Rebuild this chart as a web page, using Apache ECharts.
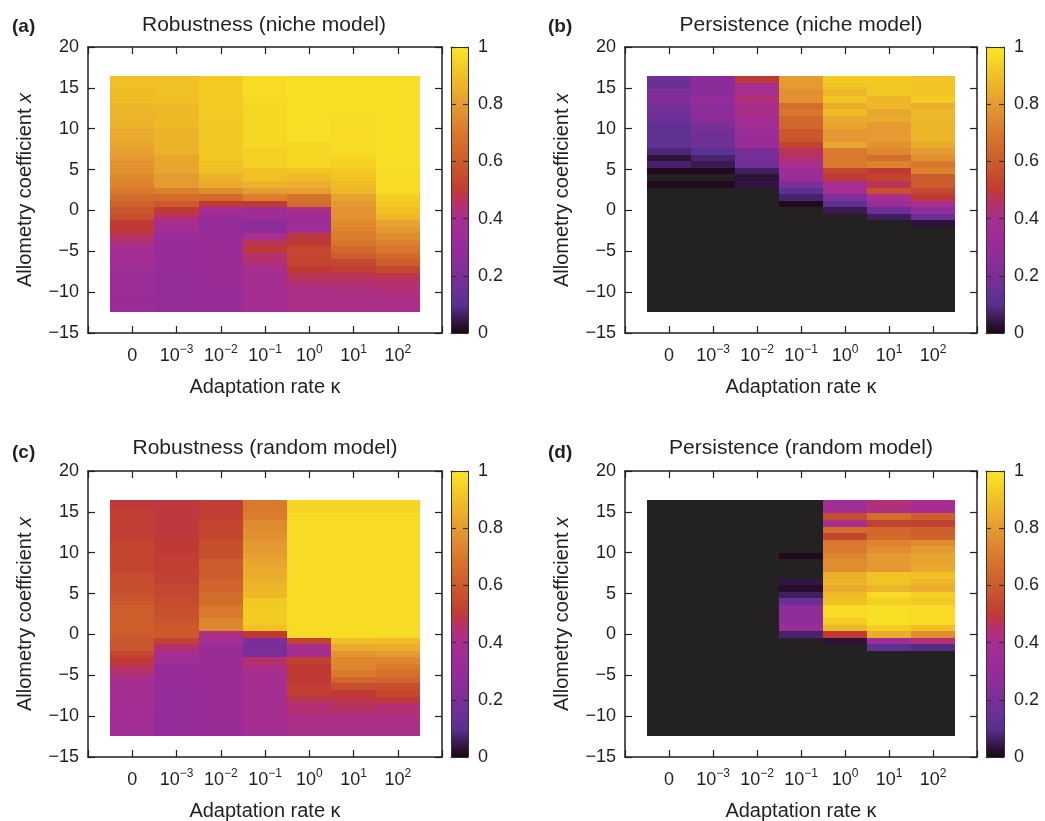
<!DOCTYPE html>
<html>
<head>
<meta charset="utf-8">
<title>Robustness and persistence</title>
<script src="https://cdn.jsdelivr.net/npm/echarts@6.0.0/dist/echarts.min.js"></script>
<style>
  html, body { margin: 0; padding: 0; background: #fff; }
  #main { width: 1045px; height: 821px; }
</style>
</head>
<body>
<div id="main"></div>
<script>
// ---- data ----
var N = null; // no value (drawn dark grey)

var kappaExp = ['', '\u22123', '\u22122', '\u22121', '0', '1', '2']; // tick labels 0, 10^-3 ... 10^2
var panelTitles = ['Robustness (niche model)', 'Persistence (niche model)', 'Robustness (random model)', 'Persistence (random model)'];
var panelTags = ['(a)', '(b)', '(c)', '(d)'];

// allometry coefficient x of each row, top to bottom
var xRows = [16, 15.2, 14.4, 13.6, 12.8, 12, 11.2, 10.4, 9.6, 8.8, 8, 7.2, 6.4, 5.6, 4.8, 4, 3.2, 2.4,
             1.6, 0.8, 0, -0.8, -1.6, -2.4, -3.2, -4, -4.8, -5.6, -6.4, -7.2, -8, -8.8, -9.6, -10.4, -11.2, -12];

// one array per adaptation rate column, values top (x=16) to bottom (x=-12)
var robNiche = [
  [0.9,0.9,0.89,0.89,0.87,0.87,0.86,0.86,0.84,0.84,0.83,0.81,0.8,0.78,0.77,0.75,0.73,0.7,0.66,0.62,0.58,0.56,0.5,0.5,0.46,0.43,0.38,0.37,0.37,0.34,0.33,0.33,0.33,0.32,0.32,0.33],
  [0.9,0.9,0.9,0.9,0.88,0.88,0.88,0.88,0.86,0.86,0.86,0.86,0.83,0.83,0.83,0.8,0.8,0.72,0.66,0.59,0.5,0.45,0.39,0.38,0.31,0.31,0.31,0.31,0.31,0.31,0.29,0.29,0.29,0.29,0.29,0.29],
  [0.93,0.93,0.93,0.93,0.93,0.93,0.92,0.92,0.92,0.92,0.92,0.92,0.92,0.9,0.9,0.86,0.84,0.76,0.65,0.5,0.38,0.32,0.3,0.3,0.32,0.32,0.32,0.32,0.32,0.32,0.32,0.32,0.32,0.31,0.31,0.31],
  [0.97,0.97,0.97,0.97,0.96,0.96,0.96,0.96,0.96,0.96,0.96,0.94,0.94,0.94,0.9,0.9,0.86,0.8,0.72,0.5,0.35,0.34,0.26,0.26,0.4,0.47,0.5,0.45,0.44,0.39,0.39,0.39,0.39,0.39,0.39,0.39],
  [0.98,0.98,0.98,0.98,0.98,0.98,0.98,0.98,0.98,0.98,0.96,0.96,0.96,0.96,0.91,0.88,0.85,0.81,0.68,0.66,0.41,0.35,0.34,0.36,0.49,0.5,0.54,0.53,0.53,0.5,0.47,0.45,0.41,0.41,0.41,0.41],
  [0.98,0.98,0.98,0.98,0.98,0.98,0.97,0.97,0.97,0.97,0.97,0.97,0.95,0.94,0.92,0.91,0.89,0.87,0.82,0.8,0.78,0.77,0.75,0.73,0.71,0.69,0.64,0.6,0.54,0.51,0.47,0.45,0.42,0.42,0.41,0.41],
  [0.98,0.98,0.98,0.98,0.98,0.98,0.98,0.98,0.98,0.98,0.98,0.98,0.98,0.98,0.97,0.97,0.97,0.97,0.94,0.92,0.9,0.88,0.82,0.79,0.76,0.72,0.69,0.65,0.61,0.54,0.48,0.45,0.44,0.42,0.41,0.41]
];

var perNiche = [
  [0.16,0.15,0.2,0.22,0.18,0.17,0.16,0.13,0.12,0.12,0.12,0.08,0.03,0.07,0.01,N,0.01,N,N,N,N,N,N,N,N,N,N,N,N,N,N,N,N,N,N,N],
  [0.25,0.25,0.25,0.29,0.26,0.26,0.25,0.2,0.17,0.16,0.16,0.11,0.07,0.05,0.01,N,0.01,N,N,N,N,N,N,N,N,N,N,N,N,N,N,N,N,N,N,N],
  [0.5,0.39,0.4,0.44,0.39,0.41,0.37,0.37,0.33,0.32,0.32,0.19,0.18,0.17,0.06,0.03,0.04,N,N,N,N,N,N,N,N,N,N,N,N,N,N,N,N,N,N,N],
  [0.8,0.8,0.77,0.77,0.66,0.69,0.64,0.64,0.58,0.58,0.52,0.47,0.44,0.4,0.33,0.33,0.2,0.11,0.07,0.01,N,N,N,N,N,N,N,N,N,N,N,N,N,N,N,N],
  [0.93,0.91,0.87,0.91,0.85,0.89,0.84,0.83,0.79,0.79,0.83,0.7,0.7,0.7,0.53,0.5,0.4,0.39,0.2,0.12,0.05,N,N,N,N,N,N,N,N,N,N,N,N,N,N,N],
  [0.93,0.92,0.92,0.87,0.88,0.83,0.84,0.8,0.8,0.8,0.77,0.74,0.66,0.73,0.5,0.53,0.47,0.57,0.4,0.33,0.16,0.06,N,N,N,N,N,N,N,N,N,N,N,N,N,N],
  [0.91,0.91,0.91,0.93,0.85,0.88,0.87,0.87,0.87,0.87,0.84,0.8,0.77,0.7,0.73,0.6,0.6,0.54,0.5,0.4,0.27,0.15,0.03,N,N,N,N,N,N,N,N,N,N,N,N,N]
];

var robRandom = [
  [0.49,0.51,0.51,0.51,0.51,0.51,0.53,0.53,0.53,0.53,0.53,0.55,0.56,0.56,0.57,0.58,0.6,0.61,0.61,0.61,0.6,0.58,0.58,0.53,0.5,0.47,0.44,0.39,0.39,0.39,0.38,0.38,0.37,0.36,0.36,0.36],
  [0.49,0.49,0.49,0.49,0.49,0.49,0.5,0.5,0.51,0.51,0.51,0.52,0.52,0.54,0.54,0.55,0.56,0.57,0.58,0.59,0.59,0.52,0.45,0.39,0.38,0.3,0.3,0.3,0.3,0.29,0.29,0.29,0.29,0.29,0.29,0.3],
  [0.51,0.51,0.51,0.53,0.53,0.53,0.56,0.56,0.56,0.6,0.6,0.6,0.63,0.63,0.66,0.66,0.7,0.7,0.74,0.74,0.42,0.38,0.32,0.32,0.32,0.32,0.32,0.32,0.32,0.32,0.32,0.32,0.32,0.32,0.32,0.32],
  [0.7,0.7,0.71,0.75,0.76,0.77,0.79,0.8,0.81,0.83,0.84,0.85,0.86,0.87,0.88,0.92,0.93,0.93,0.93,0.9,0.5,0.2,0.19,0.2,0.45,0.42,0.39,0.39,0.39,0.39,0.39,0.39,0.39,0.39,0.39,0.38],
  [0.95,0.95,0.97,0.97,0.97,0.97,0.97,0.97,0.97,0.97,0.97,0.97,0.97,0.97,0.97,0.97,0.97,0.97,0.97,0.97,0.97,0.52,0.4,0.39,0.52,0.5,0.5,0.5,0.51,0.51,0.47,0.44,0.44,0.41,0.41,0.41],
  [0.95,0.95,0.97,0.97,0.97,0.97,0.97,0.97,0.97,0.97,0.97,0.97,0.97,0.97,0.97,0.97,0.97,0.97,0.97,0.97,0.97,0.9,0.84,0.78,0.74,0.74,0.7,0.64,0.56,0.5,0.48,0.46,0.44,0.41,0.41,0.41],
  [0.95,0.95,0.97,0.97,0.97,0.97,0.97,0.97,0.97,0.97,0.97,0.97,0.97,0.97,0.97,0.97,0.97,0.97,0.97,0.97,0.97,0.89,0.85,0.8,0.74,0.7,0.67,0.63,0.56,0.54,0.5,0.44,0.44,0.41,0.41,0.41]
];

var perRandom = [
  [N,N,N,N,N,N,N,N,N,N,N,N,N,N,N,N,N,N,N,N,N,N,N,N,N,N,N,N,N,N,N,N,N,N,N,N],
  [N,N,N,N,N,N,N,N,N,N,N,N,N,N,N,N,N,N,N,N,N,N,N,N,N,N,N,N,N,N,N,N,N,N,N,N],
  [N,N,N,N,N,N,N,N,N,N,N,N,N,N,N,N,N,N,N,N,N,N,N,N,N,N,N,N,N,N,N,N,N,N,N,N],
  [N,N,N,N,N,N,N,N,0.01,N,N,N,0.04,0.02,0.06,0.15,0.27,0.27,0.27,0.31,0.07,N,N,N,N,N,N,N,N,N,N,N,N,N,N,N],
  [0.36,0.37,0.55,0.4,0.66,0.53,0.7,0.7,0.74,0.76,0.76,0.85,0.87,0.84,0.89,0.9,0.97,0.97,0.93,0.88,0.5,0.03,N,N,N,N,N,N,N,N,N,N,N,N,N,N],
  [0.44,0.42,0.66,0.52,0.64,0.65,0.73,0.76,0.8,0.8,0.79,0.91,0.91,0.87,0.97,0.94,0.98,0.98,0.98,0.93,0.85,0.34,0.12,N,N,N,N,N,N,N,N,N,N,N,N,N],
  [0.4,0.39,0.61,0.52,0.61,0.62,0.76,0.8,0.83,0.83,0.84,0.9,0.87,0.85,0.94,0.92,0.97,0.97,0.97,0.9,0.76,0.44,0.09,N,N,N,N,N,N,N,N,N,N,N,N,N]
];

// colour scale, 0 -> 1 in steps of 0.05
var palette = ['#1c0610','#3a1a52','#573190','#6a3096','#7c2e99','#8a2d9a','#962c99','#9f2d97','#a82e90','#b5306c',
               '#bf3a34','#c54c2e','#cc5c2c','#d26a2c','#d9792d','#df8a2f','#e59b31','#ebae2c','#f0c024','#f5d423','#f9e628'];

// ---- layout ----
var ink = '#231f20';
var missingColor = '#242122';
var fontFamily = '"Liberation Sans", Arial, Helvetica, sans-serif';
var rowHalf = 0.4;
var plotH = 286;
var boxes = [
  {left: 88,  top: 47,  width: 354, cb: 451, cbw: 17, tx: 264, ty: 25,  gx: 12,  gy: 27},
  {left: 625, top: 47,  width: 352, cb: 986, cbw: 18, tx: 801, ty: 25,  gx: 548, gy: 27},
  {left: 88,  top: 471, width: 354, cb: 451, cbw: 17, tx: 265, ty: 448, gx: 12,  gy: 453},
  {left: 625, top: 471, width: 352, cb: 986, cbw: 18, tx: 801, ty: 448, gx: 548, gy: 453}
];
var panelData = [robNiche, perNiche, robRandom, perRandom];

var chart = echarts.init(document.getElementById('main'), null, {renderer: 'canvas'});

function lineStyle(w) { return {color: ink, width: w}; }

function kappaLabel(v) {
  var i = Math.round(v);
  if (i < 0 || i > 6) return '';
  return kappaExp[i] === '' ? '{b|0}' : '{b|10}{s|' + kappaExp[i] + '}';
}
function minusLabel(v) { return v < 0 ? '\u2212' + Math.abs(v) : String(v); }

// cells snapped to whole pixels so neighbouring rows leave no seams
function renderCell(params, api) {
  var c = api.value(0), y = api.value(1), v = api.value(2);
  var p0 = api.coord([c - 0.5, y + rowHalf]);
  var p1 = api.coord([c + 0.5, y - rowHalf]);
  var x0 = Math.round(p0[0]), y0 = Math.round(p0[1]);
  var x1 = Math.round(p1[0]), y1 = Math.round(p1[1]);
  return {
    type: 'rect',
    shape: {x: x0, y: y0, width: x1 - x0, height: y1 - y0},
    style: {fill: v < 0 ? missingColor : api.visual('color')}
  };
}

var barGradient = new echarts.graphic.LinearGradient(0, 1, 0, 0, palette.map(function (c, i) {
  return {offset: i / (palette.length - 1), color: c};
}));
function renderBar(params, api) {
  var p0 = api.coord([0, 1]);
  var p1 = api.coord([1, 0]);
  return {type: 'rect', shape: {x: p0[0], y: p0[1], width: p1[0] - p0[0], height: p1[1] - p0[1]},
          style: {fill: barGradient}};
}

var grids = [], xAxes = [], yAxes = [], series = [], graphics = [];

boxes.forEach(function (b) {
  grids.push({left: b.left, top: b.top, width: b.width, height: plotH, outerBoundsMode: 'none'});
});
boxes.forEach(function (b) {
  grids.push({left: b.cb, top: b.top, width: b.cbw, height: plotH, outerBoundsMode: 'none'});
});

// plot axes (bottom/top and left/right for each panel)
boxes.forEach(function (b, k) {
  var common = {
    gridIndex: k, type: 'value', min: -1, max: 7, interval: 1, z: 10,
    axisLine: {show: true, onZero: false, lineStyle: lineStyle(1.5)},
    axisTick: {show: true, inside: true, length: 7, lineStyle: lineStyle(1.2)},
    splitLine: {show: false}
  };
  xAxes.push(Object.assign({}, common, {
    position: 'bottom',
    axisLabel: {
      show: true, margin: 11, formatter: kappaLabel, color: ink,
      rich: {
        b: {fontSize: 18, lineHeight: 24, fontFamily: fontFamily, color: ink},
        s: {fontSize: 12, lineHeight: 12, verticalAlign: 'top', fontFamily: fontFamily, color: ink}
      }
    },
    name: 'Adaptation rate \u03ba', nameLocation: 'middle', nameGap: 44,
    nameTextStyle: {fontSize: 20, color: ink, fontFamily: fontFamily}
  }));
  xAxes.push(Object.assign({}, common, {position: 'top', axisLabel: {show: false}}));
});
boxes.forEach(function (b, k) {
  var common = {
    gridIndex: k, type: 'value', min: -15, max: 20, interval: 5, z: 10,
    axisLine: {show: true, onZero: false, lineStyle: lineStyle(1.5)},
    axisTick: {show: true, inside: true, length: 7, lineStyle: lineStyle(1.2)},
    splitLine: {show: false}
  };
  yAxes.push(Object.assign({}, common, {
    position: 'left',
    axisLabel: {show: true, margin: 9, fontSize: 18, color: ink, fontFamily: fontFamily,
                formatter: minusLabel, showMinLabel: true, showMaxLabel: true},
    name: 'Allometry coefficient {i|x}', nameLocation: 'middle', nameGap: 53,
    nameTextStyle: {fontSize: 20, color: ink, fontFamily: fontFamily,
                    rich: {i: {fontSize: 20, fontStyle: 'italic', color: ink, fontFamily: fontFamily}}}
  }));
  yAxes.push(Object.assign({}, common, {position: 'right', axisLabel: {show: false}}));
});

// colour bar axes
boxes.forEach(function (b, k) {
  var g = 4 + k;
  var frame = {gridIndex: g, type: 'value', min: 0, max: 1, z: 10,
               axisLine: {show: true, onZero: false, lineStyle: {color: '#333', width: 1}},
               axisTick: {show: false}, axisLabel: {show: false}, splitLine: {show: false}};
  xAxes.push(Object.assign({}, frame, {position: 'bottom'}));
  xAxes.push(Object.assign({}, frame, {position: 'top'}));
  var ticks = {show: true, inside: true, length: 5, lineStyle: {color: '#333', width: 1.2}};
  yAxes.push(Object.assign({}, frame, {position: 'left', interval: 0.2, axisTick: ticks}));
  yAxes.push(Object.assign({}, frame, {
    position: 'right', interval: 0.2, axisTick: ticks,
    axisLabel: {show: true, margin: 10, fontSize: 18, color: ink, fontFamily: fontFamily,
                showMinLabel: true, showMaxLabel: true}
  }));
});

// heat map series
panelData.forEach(function (cols, k) {
  var data = [];
  cols.forEach(function (col, c) {
    xRows.forEach(function (x, t) {
      var v = col[t];
      data.push([c, x, (v === null || v === undefined) ? -1 : v]);
    });
  });
  series.push({
    type: 'custom', name: panelTitles[k], xAxisIndex: 2 * k, yAxisIndex: 2 * k,
    dimensions: ['kappa', 'x', 'value'], encode: {x: 0, y: 1},
    renderItem: renderCell, data: data, silent: true, z: 2
  });
});
boxes.forEach(function (b, k) {
  series.push({
    type: 'custom', xAxisIndex: 8 + 2 * k, yAxisIndex: 8 + 2 * k,
    renderItem: renderBar, data: [[0.5, 0.5]], silent: true, z: 2
  });
});

// titles and panel letters
boxes.forEach(function (b, k) {
  graphics.push({type: 'text', x: b.tx, y: b.ty, silent: true,
    style: {text: panelTitles[k], font: '21px ' + fontFamily, fill: ink, align: 'center', verticalAlign: 'middle'}});
  graphics.push({type: 'text', x: b.gx, y: b.gy, silent: true,
    style: {text: panelTags[k], font: 'bold 19px ' + fontFamily, fill: ink, align: 'left', verticalAlign: 'middle'}});
});

chart.setOption({
  animation: false,
  backgroundColor: '#ffffff',
  textStyle: {fontFamily: fontFamily, color: ink},
  grid: grids,
  xAxis: xAxes,
  yAxis: yAxes,
  visualMap: {
    type: 'continuous', show: false, seriesIndex: [0, 1, 2, 3], dimension: 2,
    min: 0, max: 1, inRange: {color: palette}, outOfRange: {color: [missingColor]}
  },
  graphic: graphics,
  series: series
});
</script>
</body>
</html>
